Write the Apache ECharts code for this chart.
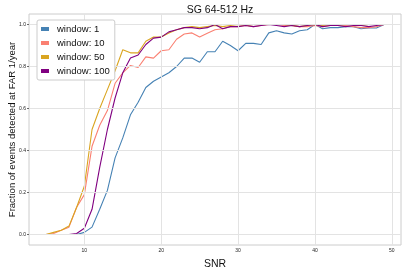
<!DOCTYPE html>
<html><head><meta charset="utf-8">
<script src="https://cdn.jsdelivr.net/npm/echarts@6/dist/echarts.min.js"></script>
<style>html,body{margin:0;padding:0;background:#fff}#c{width:407px;height:271px}</style>
</head><body><div id="c"></div>
<script>
const snr = [5,6,7,8,9,10,11,12,13,14,15,16,17,18,19,20,21,22,23,24,25,26,27,28,29,30,31,32,33,34,35,36,37,38,39,40,41,42,43,44,45,46,47,48,49];
const window1 = [0,0,0,0,0,0.01,0.035,0.12,0.21,0.365,0.46,0.57,0.63,0.70,0.73,0.75,0.77,0.80,0.84,0.84,0.82,0.87,0.87,0.92,0.90,0.875,0.91,0.91,0.905,0.96,0.97,0.96,0.955,0.97,0.975,1.0,0.98,0.985,0.985,0.99,0.99,0.98,0.983,0.983,1.0];
const window10 = [0,0.005,0.02,0.035,0.13,0.19,0.42,0.52,0.59,0.72,0.77,0.805,0.795,0.846,0.84,0.875,0.88,0.93,0.955,0.96,0.94,0.958,0.975,0.98,0.99,0.99,0.995,0.99,0.995,1.0,1.0,0.995,0.995,0.99,0.99,0.995,0.99,0.995,1.0,0.995,0.99,0.985,0.985,0.99,1.0];
const window50 = [0,0.01,0.02,0.04,0.13,0.23,0.50,0.60,0.69,0.78,0.88,0.865,0.865,0.92,0.94,0.94,0.96,0.975,0.985,0.99,0.985,0.99,0.995,0.99,0.995,1.0,0.995,1.0,1.0,1.0,1.0,1.0,0.995,0.99,0.995,1.0,0.995,1.0,0.995,1.0,1.0,0.995,1.0,1.0,1.0];
const window100 = [0,0,0,0,0.005,0.03,0.12,0.32,0.50,0.65,0.77,0.84,0.855,0.905,0.935,0.94,0.965,0.975,0.985,0.985,0.98,0.985,1.0,0.98,0.99,0.99,0.995,0.99,0.995,1.0,0.995,0.99,0.995,0.99,0.995,1.0,0.99,0.995,0.995,0.99,0.995,0.995,0.99,0.995,1.0];
const seriesNames = ['window: 1','window: 10','window: 50','window: 100'];
const xTicks = [10,20,30,40,50];
const yTicks = [0,0.2,0.4,0.6,0.8,1.0];

const colors = ['#4682b4','#fa8072','#daa520','#800080'];
const allData = [window1, window10, window50, window100];
const font = 'Liberation Sans, Arial, sans-serif';
const gridLineStyle = {color:'#e3e3e3', width:1, type:'solid'};
const chart = echarts.init(document.getElementById('c'), null, {renderer:'canvas'});
const lineSeries = seriesNames.map((n,i)=>({
  name:n, type:'line', showSymbol:false, symbol:'none', z:2,
  data: snr.map((s,j)=>[s, allData[i][j]]),
  lineStyle:{width:1.1, color:colors[i]}, itemStyle:{color:colors[i]}
}));
const gridSeries = {
  name:'_grid', type:'line', data:[], z:1, silent:true,
  markLine:{silent:true, symbol:['none','none'], label:{show:false}, animation:false,
    lineStyle:gridLineStyle, emphasis:{disabled:true},
    data: xTicks.map(v=>({xAxis:v})).concat(yTicks.map(v=>({yAxis:v})))}
};
chart.setOption({
  animation:false,
  color: colors,
  textStyle:{fontFamily:font},
  title:{text:'SG 64-512 Hz', left:215, textAlign:'center', top:0,
    textStyle:{fontSize:10.5, fontWeight:'normal', color:'#111', fontFamily:font}},
  grid:{left:29, right:6, top:14, bottom:26, containLabel:false, outerBoundsMode:'none',
    show:true, borderColor:'#cccccc', borderWidth:1, backgroundColor:'transparent'},
  legend:{
    orient:'vertical', left:37, top:20, z:20, icon:'rect', itemWidth:8, itemHeight:4, itemGap:4,
    padding:[4,5,4,4], borderColor:'#cccccc', borderWidth:1, borderRadius:2, backgroundColor:'#ffffff',
    textStyle:{fontSize:9.5, color:'#111', fontFamily:font, padding:[0,0,0,3]},
    data: seriesNames
  },
  xAxis:{type:'value', min:2.8, max:51.2,
    name:'SNR', nameLocation:'middle', nameGap:14, nameMoveOverlap:false,
    nameTextStyle:{fontSize:10.5, color:'#111', fontFamily:font},
    axisLine:{show:false},
    axisTick:{show:true, customValues:xTicks, length:2, lineStyle:{color:'#444', width:0.8}},
    axisLabel:{customValues:xTicks, fontSize:5, color:'#222', margin:3, formatter:v=>String(v)},
    splitLine:{show:false}
  },
  yAxis:{type:'value', min:-0.05, max:1.05,
    name:'Fraction of events detected at FAR 1/year', nameLocation:'middle', nameGap:12, nameMoveOverlap:false,
    nameTextStyle:{fontSize:9.5, color:'#111', fontFamily:font},
    axisLine:{show:false},
    axisTick:{show:true, customValues:yTicks, length:2, lineStyle:{color:'#444', width:0.8}},
    axisLabel:{customValues:yTicks, fontSize:5, color:'#222', margin:3, formatter:v=>v.toFixed(1)},
    splitLine:{show:false}
  },
  series: [gridSeries].concat(lineSeries)
});
</script></body></html>
